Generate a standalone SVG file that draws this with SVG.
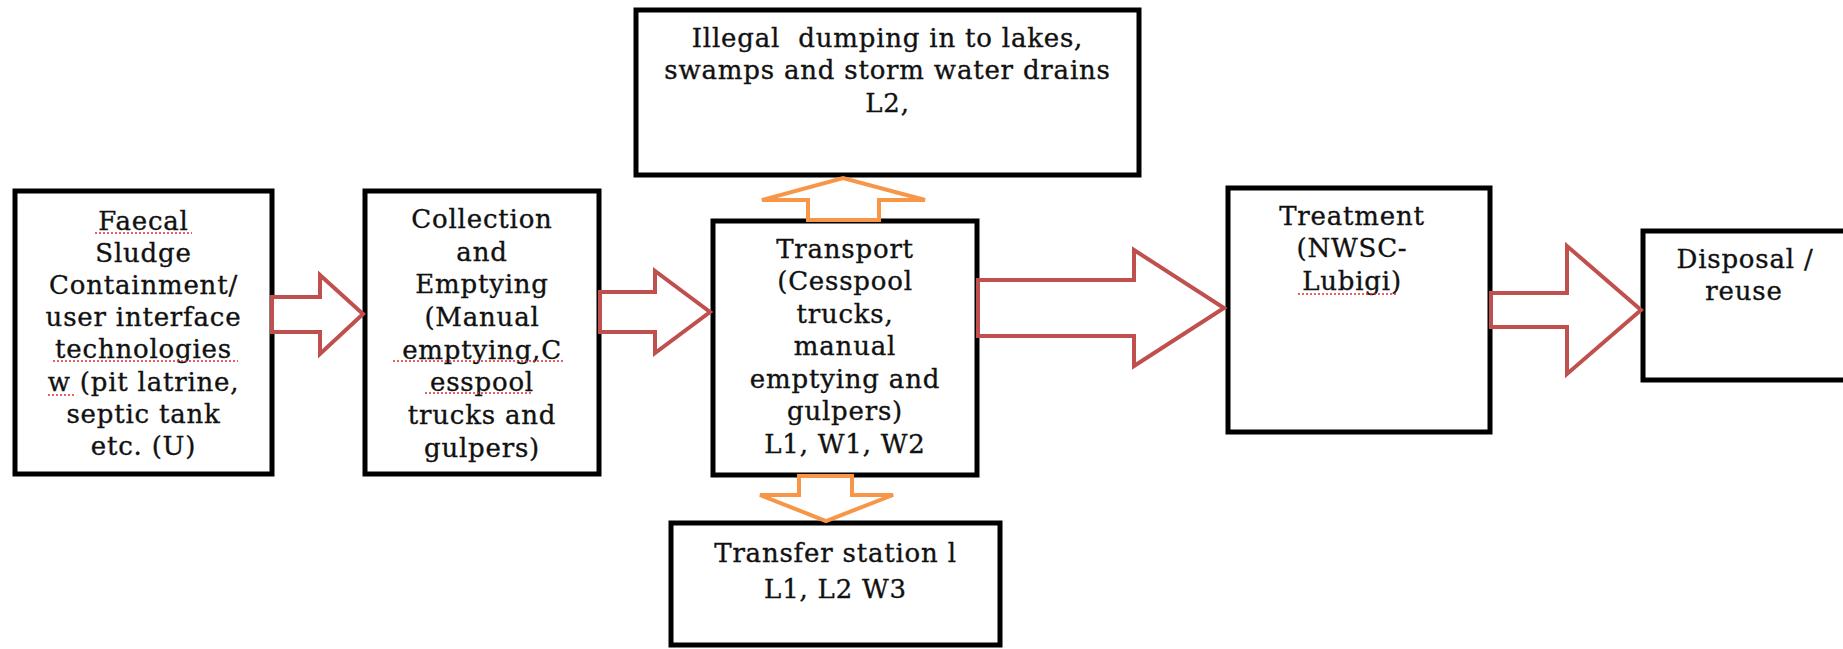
<svg xmlns="http://www.w3.org/2000/svg" width="1843" height="649" viewBox="0 0 1843 649">
<style>
.box{fill:#fff;stroke:#000;stroke-width:5}
.ra{fill:#fff;stroke:#c0504d;stroke-width:4;stroke-linejoin:miter}
.oa{fill:#fff;stroke:#f79646;stroke-width:4;stroke-linejoin:miter}
text{font-family:"DejaVu Serif","Liberation Serif",serif;font-size:26px;fill:#111;stroke:#111;stroke-width:0.35;text-anchor:middle;letter-spacing:0.8px}
.sq{fill:none;stroke:#e03030;stroke-width:1.5;stroke-dasharray:2 2}
</style>
<rect width="1843" height="649" fill="#fff"/>
<g id="faecal">
<rect class="box" x="15" y="191" width="257" height="283"/>
<text x="143.5" y="230">Faecal</text>
<text x="143.5" y="262">Sludge</text>
<text x="143.5" y="294">Containment/</text>
<text x="143.5" y="326">user interface</text>
<text x="143.5" y="358">technologies</text>
<text x="143.5" y="391">w (pit latrine,</text>
<text x="143.5" y="423">septic tank</text>
<text x="143.5" y="455">etc. (U)</text>
<path class="sq" d="M95 233H192M53 361H238M48 395H75"/>
</g>
<g id="collection">
<rect class="box" x="365" y="191" width="234" height="283"/>
<text x="482" y="228">Collection</text>
<text x="482" y="261">and</text>
<text x="482" y="293">Emptying</text>
<text x="482" y="326">(Manual</text>
<text x="482" y="359">emptying,C</text>
<text x="482" y="391">esspool</text>
<text x="482" y="424">trucks and</text>
<text x="482" y="457">gulpers)</text>
<path class="sq" d="M393 361H565M425 393H532"/>
</g>
<g id="transport">
<rect class="box" x="713" y="221" width="264" height="254"/>
<text x="845" y="258">Transport</text>
<text x="845" y="290">(Cesspool</text>
<text x="845" y="323">trucks,</text>
<text x="845" y="355">manual</text>
<text x="845" y="388">emptying and</text>
<text x="845" y="420">gulpers)</text>
<text x="845" y="453">L1, W1, W2</text>
</g>
<g id="illegal">
<rect class="box" x="636" y="10" width="503" height="165"/>
<text x="887.5" y="47">Illegal&#160; dumping in to lakes,</text>
<text x="887.5" y="79">swamps and storm water drains</text>
<text x="887.5" y="112">L2,</text>
</g>
<g id="transfer">
<rect class="box" x="671" y="523" width="329" height="122"/>
<text x="835.5" y="562">Transfer station l</text>
<text x="835.5" y="598">L1, L2 W3</text>
</g>
<g id="treatment">
<rect class="box" x="1228" y="188" width="262" height="244"/>
<text x="1352" y="225">Treatment</text>
<text x="1352" y="257">(NWSC-</text>
<text x="1352" y="290">Lubigi)</text>
<path class="sq" d="M1298 294H1398"/>
</g>
<g id="disposal">
<rect class="box" x="1643" y="231" width="205" height="149"/>
<text x="1745" y="268">Disposal /</text>
<text x="1744" y="300">reuse</text>
</g>
<g id="connectors">
<polygon class="ra" points="272,297 320,297 320,275 363,314 320,354 320,332 272,332"/>
<polygon class="ra" points="600,292 655,292 655,271 710,312 655,353 655,332 600,332"/>
<polygon class="ra" points="978,280 1134,280 1134,250 1224,308 1134,366 1134,336 978,336"/>
<polygon class="ra" points="1491,293 1567,293 1567,246 1641,310 1567,374 1567,327 1491,327"/>
<polygon class="oa" points="808,220 808,200 762,200 843,178 925,200 879,200 879,220"/>
<polygon class="oa" points="799,476 799,495 760,495 826,521 893,495 852,495 852,476"/>
</g>
</svg>
